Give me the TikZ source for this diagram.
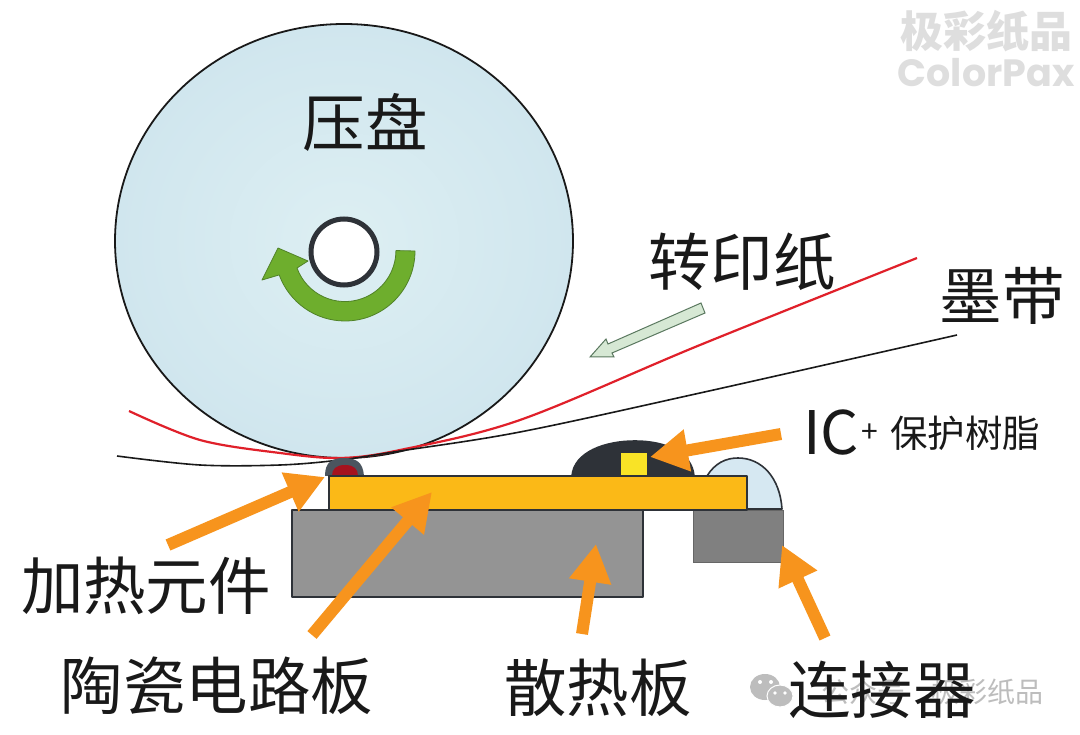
\documentclass[tikz,border=0pt]{standalone}
\usepackage{fontspec}
\usetikzlibrary{arrows.meta}
\setmainfont{Noto Sans CJK SC}
\newfontfamily\popp{Poppins}
\newcommand{\fs}[1]{\fontsize{#1pt}{#1pt}\selectfont}
\definecolor{orangeArrow}{HTML}{F7941D}
\definecolor{discBlue}{HTML}{D0E6EE}
\definecolor{discLight}{HTML}{DDEFF3}
\definecolor{boardYellow}{HTML}{FBB917}
\definecolor{edgeDark}{HTML}{2E3238}
\definecolor{wmGray}{HTML}{DEDEDE}
\definecolor{wmGrayB}{HTML}{BDBDBD}
\definecolor{greenFill}{HTML}{6EAE2D}
\definecolor{greenEdge}{HTML}{508228}
\definecolor{heaterGray}{HTML}{4B555F}
\definecolor{heaterRed}{HTML}{A5121E}
\definecolor{resinBlue}{HTML}{D6E8F2}
\definecolor{chipYellow}{HTML}{F9E326}
\definecolor{paleFill}{HTML}{D6E8D4}
\definecolor{paleEdge}{HTML}{5A785F}
\definecolor{paperRed}{HTML}{E0202A}
\tikzset{
  lbl/.style={inner sep=0pt,text=black!90,font=\fs{62.5}},
  blockarrow/.style={draw=orangeArrow,line width=12pt,
    -{Triangle[length=38pt,width=40pt]}},
  part/.style={draw=edgeDark,line width=1.6pt,line join=round},
  wm/.style={inner sep=0pt,text=wmGray},
  wmb/.style={inner sep=0pt,text=wmGrayB}
}
\begin{document}
\begin{tikzpicture}[x=1pt,y=-1pt]
\useasboundingbox (0,0) rectangle (1080,735);
\fill[white] (0,0) rectangle (1080,735);

% faint watermarks
\node[wm,font=\fs{43}\bfseries] (wmcn) at (986,31) {极彩纸品};
\node[wm,font=\popp\fs{38}\bfseries] (wmen) at (986,73) {ColorPax};
\fill[wmGrayB] (765,687) ellipse (15 and 13);
\fill[white] (760,682) circle (2) (771,682) circle (2);
\draw[white,fill=wmGrayB,line width=1pt] (780,696) ellipse (13 and 11);
\fill[white] (775,693) circle (1.8) (785,693) circle (1.8);
\node[wmb,font=\fs{28}] (wmpub) at (863,692) {公众号};
\node[wmb,font=\fs{28}] (wmcn2) at (987,692) {极彩纸品};

% platen disc
\draw[inner color=discLight,outer color=discBlue,draw=black!90,line width=1.8pt] (344,241) ellipse (229 and 217);
\node[lbl] (platen) at (365,122) {压盘};

% hub
\draw[fill=white,draw=edgeDark,line width=5pt] (344,252) circle (33);

% green rotation arrow
\draw[fill=greenFill,draw=greenEdge,line width=.8pt,line join=round]
  (415,251) arc[start angle=0,end angle=160,radius=70]
  -- (262,280) -- (278,248) -- (308,261) -- (297,268)
  arc[start angle=160,end angle=0,radius=51] -- cycle;

% paper and ribbon
\draw[paperRed,line width=2.2pt]
  plot[smooth,tension=.55] coordinates {(129,411) (200,440) (280,453) (340,458) (400,450) (520,420) (700,345) (917,258)};
\draw[black!90,line width=1.6pt]
  plot[smooth,tension=.55] coordinates {(117,456) (200,465) (280,465) (340,460) (400,451) (520,432) (700,393) (957,335)};

% heater
\fill[heaterGray]
  (325,476) .. controls (325,462) and (332,458) .. (344,458) .. controls (356,458) and (363,462) .. (364,476) -- cycle;
\fill[heaterRed]
  (332,476) .. controls (332,469) and (336,465) .. (345,465) .. controls (354,465) and (358,469) .. (358,476) -- cycle;

% heat sink and connector
\node[part,fill=black!42,minimum width=351pt,minimum height=87pt,inner sep=0pt,anchor=north west] (sink) at (291,509) {};
\node[draw=black!60,line width=1pt,fill=black!50,minimum width=90pt,minimum height=52pt,inner sep=0pt,anchor=north west] (conn) at (693,510) {};

% clear resin
\draw[part,fill=resinBlue]
  (707,476) .. controls (715,463) and (726,458) .. (738,458) .. controls (762,458) and (780,478) .. (782,509) -- (746,509) -- (746,476) -- cycle;

% IC resin
\draw[part,fill=edgeDark]
  (572,476) .. controls (574,452) and (605,441) .. (635,441) .. controls (665,441) and (692,452) .. (694,476) -- cycle;
\node[fill=chipYellow,minimum width=26pt,minimum height=22pt,inner sep=0pt,anchor=north west] (chip) at (621,453) {};

% ceramic board
\node[part,fill=boardYellow,minimum width=418pt,minimum height=34pt,inner sep=0pt,anchor=north west] (board) at (328,475) {};

% orange callouts
\coordinate (aHeatS) at (168,545);  \coordinate (aHeatE) at (325,477);
\coordinate (aCerS) at (312,635);   \coordinate (aCerE) at (432,492);
\coordinate (aSinkS) at (582,634);  \coordinate (aSinkE) at (596,544);
\coordinate (aConnS) at (825,638);  \coordinate (aConnE) at (782,545);
\coordinate (aIcS) at (781,434);    \coordinate (aIcE) at (650,457);
\draw[blockarrow] (aHeatS) -- (aHeatE);
\draw[blockarrow] (aCerS) -- (aCerE);
\draw[blockarrow] (aSinkS) -- (aSinkE);
\draw[blockarrow] (aConnS) -- (aConnE);
\draw[blockarrow] (aIcS) -- (aIcE);

% pale paper arrow
\draw[fill=paleFill,draw=paleEdge,line width=1pt,line join=miter]
  (705,313) -- (701,303) -- (608,344) -- (606,339) -- (590,357) -- (614,357) -- (612,353) -- cycle;

% labels
\node[lbl] (paper) at (742,262) {转印纸};
\node[lbl] (ribbon) at (1002,296) {墨带};
\node[inner sep=0pt,text=black!90,font=\fs{60}] (ic) at (831,433) {IC};
\node[inner sep=0pt,text=black!90,font=\fs{30}] (plus) at (870,433) {+};
\node[inner sep=0pt,text=black!90,font=\fs{37.5}] (resin) at (965,433) {保护树脂};
\node[lbl] (heater) at (146,586) {加热元件};
\node[lbl] (ceramic) at (217,686) {陶瓷电路板};
\node[lbl] (sinklabel) at (598,688) {散热板};
\node[lbl] (connlabel) at (882,690) {连接器};
\end{tikzpicture}
\end{document}
